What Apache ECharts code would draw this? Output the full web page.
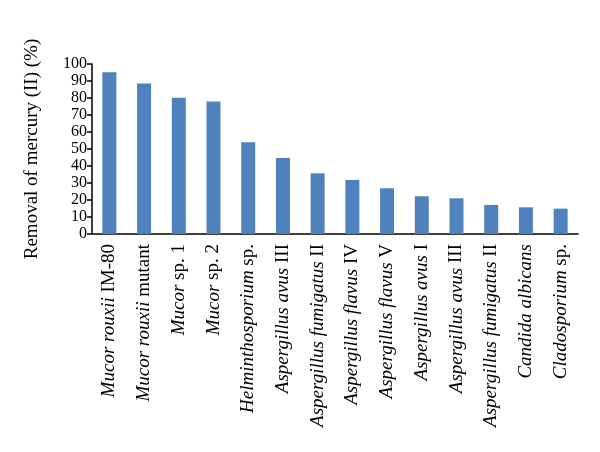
<!DOCTYPE html>
<html>
<head>
<meta charset="utf-8">
<script src="https://cdn.jsdelivr.net/npm/echarts@6/dist/echarts.min.js"></script>
<style>
    html, body { margin: 0; padding: 0; background: #fff; }
    #chart { width: 600px; height: 452px; }
</style>
</head>
<body>
<div id="chart"></div>
<script>
// italic part and upright part of each strain name
const strainItalic = [
    "Mucor rouxii", "Mucor rouxii", "Mucor", "Mucor", "Helminthosporium",
    "Aspergillus avus", "Aspergillus fumigatus", "Aspergillus flavus", "Aspergillus flavus",
    "Aspergillus avus", "Aspergillus avus", "Aspergillus fumigatus", "Candida albicans", "Cladosporium",
];
const strainPlain = [
    "IM-80", "mutant", "sp. 1", "sp. 2", "sp.",
    "III", "II", "IV", "V",
    "I", "III", "II", "", "sp.",
];
const removal = [95.1, 88.6, 80.2, 78.0, 53.9, 44.7, 35.7, 31.8, 26.9, 22.2, 21.0, 17.1, 15.7, 14.9];
const yTicks = { min: 0, max: 100, interval: 10 };

const categories = strainItalic.map((s, i) => (s + " " + strainPlain[i]).trim());
const fontFamily = "Liberation Serif";

const chart = echarts.init(document.getElementById("chart"));
chart.setOption({
    animation: false,
    grid: { left: 92, right: 22, top: 64, bottom: 218 },
    xAxis: {
        type: "category",
        data: categories,
        axisLine: { lineStyle: { color: "#000", width: 1.5 } },
        axisTick: { length: 5, lineStyle: { color: "#000", width: 1.5 } },
        axisLabel: {
            rotate: 90,
            margin: 10,
            interval: 0,
            color: "#000",
            fontFamily: fontFamily,
            fontSize: 19,
            formatter: function (value, index) {
                const plain = strainPlain[index];
                return "{i|" + strainItalic[index] + "}" + (plain ? "{n| " + plain + "}" : "");
            },
            rich: {
                i: { fontStyle: "italic", fontFamily: fontFamily, fontSize: 19, color: "#000" },
                n: { fontFamily: fontFamily, fontSize: 19, color: "#000" },
            },
        },
    },
    yAxis: {
        type: "value",
        min: yTicks.min,
        max: yTicks.max,
        interval: yTicks.interval,
        name: "Removal of mercury (II) (%)",
        nameLocation: "middle",
        nameGap: 50,
        nameTextStyle: { color: "#000", fontFamily: fontFamily, fontSize: 19 },
        axisLine: { show: true, lineStyle: { color: "#000", width: 1.5 } },
        axisTick: { show: true, length: 5, lineStyle: { color: "#000", width: 1.5 } },
        axisLabel: {
            color: "#000",
            fontFamily: fontFamily,
            fontSize: 16,
            margin: 5,
            showMinLabel: true,
            showMaxLabel: true,
        },
        splitLine: { show: false },
    },
    series: [
        {
            type: "bar",
            data: removal,
            barWidth: 14,
            itemStyle: { color: "#4F81BD" },
        },
    ],
});
</script>
</body>
</html>
